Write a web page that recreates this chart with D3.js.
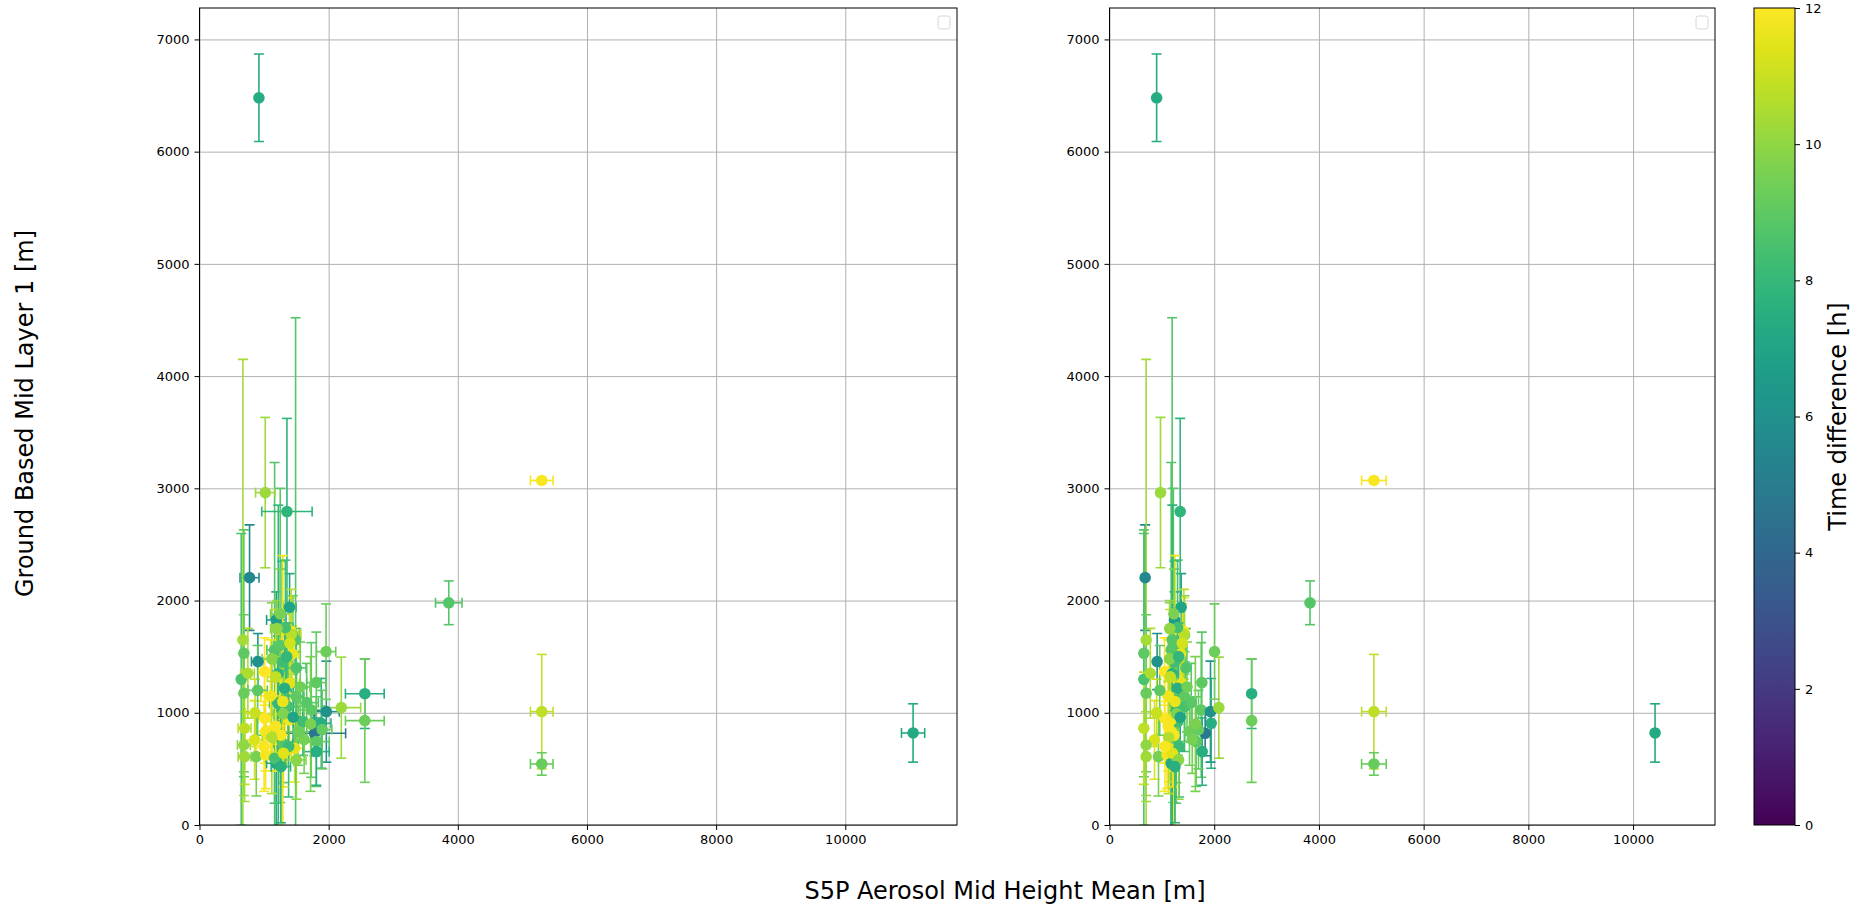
<!DOCTYPE html>
<html>
<head>
<meta charset="utf-8">
<script src="https://cdn.jsdelivr.net/npm/d3@7"></script>
<style>
  body { margin: 0; background: #fff; }
  svg { display: block; font-family: "DejaVu Sans", sans-serif; }
  .tick text { font-size: 13px; fill: #000; }
</style>
</head>
<body>
<svg id="chart" width="1857" height="906"></svg>
<script>
// one entry per station / overpass pair
const groundMid  = [6480, 3070, 1980, 1010, 544, 820, 1170, 930, 2204, 1940, 1827, 1723, 1693, 1649, 1530, 1524, 1456, 1560, 1367, 1298, 1352, 1263, 1269, 1174, 1218, 1144, 1084, 1055, 1025, 1010, 1046, 921, 951, 936, 906, 862, 758, 832, 817, 832, 728, 743, 713, 609, 609, 624, 550, 683, 654, 594, 1650, 2962, 2793, 1545, 1600, 1450, 1350, 1700, 1100, 800,
                    1880, 1760, 1620, 1480, 1400, 1320, 1230, 1150, 1090, 990, 960, 880, 850, 780, 700, 640, 580, 520, 760, 1000, 1200, 700, 1500, 900, 1750];
const groundErr  = [390, 0, 195, 510, 100, 260, 310, 550, 470, 300, 250, 300, 350, 2500, 1100, 250, 250, 1670, 300, 1300, 400, 300, 450, 700, 500, 400, 600, 400, 600, 450, 450, 300, 400, 350, 400, 500, 350, 350, 200, 300, 350, 400, 450, 400, 350, 300, 600, 300, 300, 400, 2870, 670, 830, 425, 1400, 900, 1500, 400, 1300, 900,
                    400, 600, 350, 500, 350, 600, 400, 500, 350, 450, 300, 400, 350, 500, 450, 300, 350, 500, 300, 300, 400, 400, 300, 600, 250];
const timeDiff   = [7.4, 11.9, 8.8, 10.8, 9.2, 7.3, 7.5, 9.3, 5.6, 7.0, 6.6, 11.8, 9.6, 10.4, 9.0, 11.6, 6.0, 8.8, 12, 8.6, 10.5, 11.5, 9.0, 9.2, 7.5, 9.0, 8.0, 8.5, 9.0, 6.0, 10.2, 8.3, 12, 11.8, 7.5, 10.8, 11.3, 11.8, 4.8, 9.3, 8.8, 9.0, 10.0, 10.3, 9.5, 11.8, 7.3, 11.5, 7.5, 8.5, 8.8, 10.2, 7.8, 9.3, 8.9, 8.3, 7.8, 10.7, 11.6, 11.9,
                    9.6, 8.4, 11.2, 9.8, 8.7, 10.9, 9.4, 11.7, 8.9, 9.7, 7.0, 11.9, 9.1, 10.6, 8.2, 11.4, 9.9, 7.6, 9.5, 11.0, 9.0, 11.9, 8.0, 9.6, 10.0];
// left panel: S5P mean over the area
const s5pMeanA   = [920, 5300, 3860, 5300, 5300, 11050, 2560, 2560, 775, 1395, 1189, 1421, 1447, 672, 687, 1437, 904, 1163, 1008, 646, 749, 1395, 1809, 687, 1318, 1499, 1214, 1370, 1731, 1964, 2196, 1602, 1008, 1395, 1886, 698, 853, 1023, 1783, 1525, 1292, 1809, 687, 698, 879, 1023, 1189, 1473, 1809, 1163, 1488, 1018, 1354, 1960, 1250, 1280, 1220, 1420, 1290, 1260,
                    1250, 1330, 1400, 1120, 1500, 1180, 1560, 1100, 1660, 1300, 1450, 1180, 1900, 1120, 1380, 1300, 1500, 1260, 1620, 860, 900, 1000, 1350, 1720, 1200];
const s5pErrA    = [0, 175, 205, 175, 175, 180, 300, 300, 147, 100, 150, 120, 100, 0, 0, 100, 100, 120, 100, 0, 100, 150, 150, 0, 100, 120, 130, 130, 200, 200, 300, 150, 100, 150, 150, 100, 150, 150, 480, 200, 150, 200, 100, 100, 150, 150, 150, 150, 200, 150, 0, 150, 390, 150, 100, 120, 100, 150, 100, 120,
                    150, 120, 150, 150, 150, 130, 150, 150, 180, 150, 150, 150, 150, 150, 150, 120, 150, 150, 150, 150, 150, 120, 130, 180, 100];
// right panel: S5P value at the station
const s5pMeanB   = [900, 5050, 3830, 5050, 5050, 10420, 2715, 2715, 681, 1369, 1242, 1420, 1433, 700, 656, 1356, 910, 1178, 1051, 656, 780, 1380, 1764, 700, 1300, 1433, 1250, 1433, 1751, 1929, 2088, 1305, 1051, 1178, 1942, 656, 860, 1178, 1827, 1528, 1273, 1655, 700, 700, 936, 1100, 1178, 1146, 1770, 1273, 1197, 974, 1350, 2006, 1220, 1240, 1200, 1420, 1250, 1230,
                    1230, 1300, 1390, 1150, 1460, 1160, 1480, 1120, 1560, 1280, 1350, 1120, 1700, 1130, 1330, 1200, 1320, 1250, 1580, 900, 960, 1060, 1320, 1640, 1150];
const s5pErrB    = groundMid.map((v, i) => [1, 3, 4].includes(i) ? 235 : 0);

const xTicks = [0, 2000, 4000, 6000, 8000, 10000];
const yTicks = [0, 1000, 2000, 3000, 4000, 5000, 6000, 7000];
const cTicks = [0, 2, 4, 6, 8, 10, 12];

const svg = d3.select("#chart");
const yTop = 8, yBottom = 825;
const color = d3.scaleSequential(d3.interpolateViridis).domain([0, 12]);
const y = d3.scaleLinear().domain([0, 7280]).range([yBottom, yTop]);

const panels = [
  {id: "a", left: 199.5, right: 957, xmax: 11730, xs: s5pMeanA, xe: s5pErrA},
  {id: "b", left: 1109.5, right: 1715, xmax: 11565, xs: s5pMeanB, xe: s5pErrB}
];

const cap = 5;

panels.forEach(p => {
  const x = d3.scaleLinear().domain([0, p.xmax]).range([p.left, p.right]);
  const g = svg.append("g");

  svg.append("clipPath").attr("id", "clip-" + p.id)
    .append("rect")
    .attr("x", p.left).attr("y", yTop)
    .attr("width", p.right - p.left).attr("height", yBottom - yTop);

  //Grid
  g.append("g")
    .attr("transform", `translate(0,${yBottom})`)
    .call(d3.axisBottom(x).tickValues(xTicks).tickSize(-(yBottom - yTop)).tickFormat(""))
    .call(s => s.select(".domain").remove())
    .selectAll("line").attr("stroke", "#b0b0b0").attr("stroke-width", 1);
  g.append("g")
    .attr("transform", `translate(${p.left},0)`)
    .call(d3.axisLeft(y).tickValues(yTicks).tickSize(-(p.right - p.left)).tickFormat(""))
    .call(s => s.select(".domain").remove())
    .selectAll("line").attr("stroke", "#b0b0b0").attr("stroke-width", 1);

  //Error bars (all bars first, markers on top like matplotlib)
  const data = groundMid.map((v, i) => ({
    x: p.xs[i], xe: p.xe[i], y: v, ye: groundErr[i], t: timeDiff[i]
  }));
  const bars = g.append("g").attr("clip-path", `url(#clip-${p.id})`);
  data.forEach(d => {
    const c = color(d.t);
    const bg = bars.append("g").attr("stroke", c).attr("stroke-width", 1.6).attr("fill", "none");
    if (d.ye > 0) {
      const y0 = y(d.y - d.ye), y1 = y(d.y + d.ye), cx = x(d.x);
      bg.append("line").attr("x1", cx).attr("x2", cx).attr("y1", y0).attr("y2", y1);
      bg.append("line").attr("x1", cx - cap).attr("x2", cx + cap).attr("y1", y0).attr("y2", y0);
      bg.append("line").attr("x1", cx - cap).attr("x2", cx + cap).attr("y1", y1).attr("y2", y1);
    }
    if (d.xe > 0) {
      const x0 = x(d.x - d.xe), x1 = x(d.x + d.xe), cy = y(d.y);
      bg.append("line").attr("x1", x0).attr("x2", x1).attr("y1", cy).attr("y2", cy);
      bg.append("line").attr("x1", x0).attr("x2", x0).attr("y1", cy - cap).attr("y2", cy + cap);
      bg.append("line").attr("x1", x1).attr("x2", x1).attr("y1", cy - cap).attr("y2", cy + cap);
    }
  });
  bars.append("g").selectAll("circle")
    .data(data)
    .join("circle")
    .attr("cx", d => x(d.x))
    .attr("cy", d => y(d.y))
    .attr("r", 5.8)
    .attr("fill", d => color(d.t));

  //Axes
  g.append("g")
    .attr("transform", `translate(0,${yBottom})`)
    .call(d3.axisBottom(x).tickValues(xTicks).tickSize(5).tickPadding(5).tickFormat(d3.format("d")))
    .call(s => s.select(".domain").remove())
    .call(s => s.selectAll(".tick text").attr("font-family", "DejaVu Sans").attr("font-size", 13));
  g.append("g")
    .attr("transform", `translate(${p.left},0)`)
    .call(d3.axisLeft(y).tickValues(yTicks).tickSize(5).tickPadding(5).tickFormat(d3.format("d")))
    .call(s => s.select(".domain").remove())
    .call(s => s.selectAll(".tick text").attr("font-family", "DejaVu Sans").attr("font-size", 13));

  //Frame
  g.append("rect")
    .attr("x", p.left).attr("y", yTop)
    .attr("width", p.right - p.left).attr("height", yBottom - yTop)
    .attr("fill", "none").attr("stroke", "#000").attr("stroke-width", 1);

  //Empty legend box
  g.append("rect")
    .attr("x", p.right - 19).attr("y", 16)
    .attr("width", 12).attr("height", 13)
    .attr("rx", 2.5)
    .attr("fill", "#fff").attr("stroke", "#d6d6d6").attr("stroke-width", 1);
});

//Colorbar
const cb = {left: 1754, right: 1795};
const defs = svg.append("defs");
const grad = defs.append("linearGradient").attr("id", "viridis")
  .attr("x1", 0).attr("y1", 1).attr("x2", 0).attr("y2", 0);
d3.range(0, 1.0001, 0.05).forEach(s => {
  grad.append("stop").attr("offset", s).attr("stop-color", d3.interpolateViridis(s));
});
const cScale = d3.scaleLinear().domain([0, 12]).range([yBottom, yTop]);
svg.append("rect")
  .attr("x", cb.left).attr("y", yTop)
  .attr("width", cb.right - cb.left).attr("height", yBottom - yTop)
  .attr("fill", "url(#viridis)")
  .attr("stroke", "#000").attr("stroke-width", 1);
svg.append("g")
  .attr("transform", `translate(${cb.right},0)`)
  .call(d3.axisRight(cScale).tickValues(cTicks).tickSize(5).tickPadding(5).tickFormat(d3.format("d")))
  .call(s => s.select(".domain").remove())
  .call(s => s.selectAll(".tick text").attr("font-family", "DejaVu Sans").attr("font-size", 13));

//Labels
svg.append("text")
  .attr("transform", `translate(1846,${(yTop + yBottom) / 2}) rotate(-90)`)
  .attr("text-anchor", "middle")
  .attr("font-size", 24)
  .text("Time difference [h]");

svg.append("text")
  .attr("transform", `translate(33,${(yTop + yBottom) / 2 - 3}) rotate(-90)`)
  .attr("text-anchor", "middle")
  .attr("font-size", 24)
  .text("Ground Based Mid Layer 1 [m]");

svg.append("text")
  .attr("x", 1005)
  .attr("y", 899)
  .attr("text-anchor", "middle")
  .attr("font-size", 24)
  .text("S5P Aerosol Mid Height Mean [m]");
</script>
</body>
</html>
